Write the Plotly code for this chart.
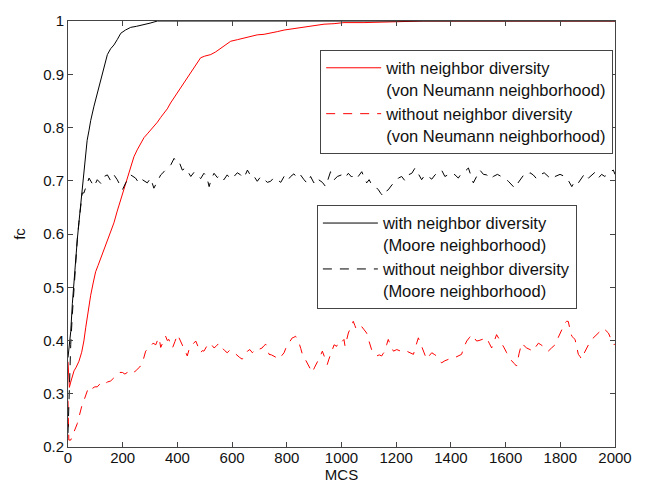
import plotly.graph_objects as go

# ---- data ----
moore_div_x = [0, 4, 10, 16, 22, 28, 34, 40, 46, 52, 58, 64, 70, 77, 83, 95, 107, 120, 132, 144, 156, 168,
               180, 193, 210, 229, 250, 278, 300, 327, 350, 400, 1000, 2000]
moore_div_y = [0.368, 0.390, 0.417, 0.470, 0.516, 0.555, 0.590, 0.622, 0.653, 0.680, 0.702, 0.738, 0.776,
               0.795, 0.813, 0.840, 0.863, 0.890, 0.912, 0.937, 0.948, 0.955, 0.965, 0.977, 0.983, 0.988,
               0.990, 0.993, 0.996, 1.0, 1.0, 1.0, 1.0, 1.0]

moore_nodiv_x = [0, 4, 10, 16, 22, 28, 34, 40, 46, 52, 58, 77, 95, 107, 120, 132, 144, 156, 168, 180, 199, 211,
                 229, 247, 260, 272, 290, 302, 314, 327, 339, 351, 363, 376, 388, 397, 406, 418, 430, 440, 449,
                 461, 473, 485, 497, 507, 516, 525, 534, 546, 558, 570, 582, 595, 607, 619, 631, 643, 656, 665,
                 674, 683, 692, 705, 717, 729, 741, 753, 765, 778, 790, 802, 814, 826, 838, 850, 863, 875, 887,
                 899, 908, 917, 930, 942, 951, 960, 973, 985, 1000, 1012, 1025, 1037, 1049, 1061, 1074, 1083,
                 1092, 1101, 1110, 1122, 1135, 1144, 1153, 1162, 1171, 1184, 1196, 1208, 1220, 1232, 1244,
                 1257, 1269, 1281, 1293, 1305, 1317, 1330, 1342, 1354, 1366, 1378, 1391, 1403, 1415, 1427,
                 1439, 1452, 1464, 1473, 1482, 1494, 1506, 1519, 1531, 1543, 1555, 1570, 1586, 1598, 1610,
                 1622, 1634, 1644, 1653, 1665, 1677, 1689, 1701, 1713, 1726, 1741, 1756, 1768, 1781, 1799,
                 1817, 1830, 1842, 1854, 1866, 1878, 1890, 1903, 1915, 1927, 1939, 1951, 1963, 1975, 1982,
                 1994, 2000]
moore_nodiv_y = [0.226, 0.300, 0.393, 0.450, 0.504, 0.550, 0.590, 0.622, 0.653, 0.677, 0.677, 0.705, 0.689,
                 0.702, 0.695, 0.708, 0.711, 0.700, 0.711, 0.702, 0.683, 0.696, 0.711, 0.705, 0.695, 0.702,
                 0.696, 0.705, 0.686, 0.700, 0.711, 0.717, 0.724, 0.730, 0.742, 0.735, 0.736, 0.720, 0.724,
                 0.715, 0.708, 0.716, 0.711, 0.704, 0.714, 0.708, 0.689, 0.705, 0.714, 0.706, 0.711, 0.702,
                 0.711, 0.703, 0.708, 0.715, 0.711, 0.705, 0.720, 0.712, 0.714, 0.706, 0.699, 0.708, 0.702,
                 0.697, 0.699, 0.706, 0.702, 0.697, 0.708, 0.700, 0.708, 0.713, 0.705, 0.711, 0.702, 0.695,
                 0.708, 0.696, 0.705, 0.702, 0.697, 0.689, 0.705, 0.717, 0.702, 0.708, 0.711, 0.705, 0.714,
                 0.707, 0.714, 0.708, 0.717, 0.705, 0.696, 0.702, 0.693, 0.690, 0.683, 0.676, 0.671, 0.680,
                 0.683, 0.692, 0.699, 0.705, 0.708, 0.700, 0.711, 0.714, 0.724, 0.712, 0.702, 0.711, 0.708,
                 0.703, 0.711, 0.716, 0.720, 0.708, 0.711, 0.715, 0.711, 0.705, 0.714, 0.718, 0.724, 0.710,
                 0.696, 0.708, 0.720, 0.712, 0.711, 0.703, 0.708, 0.712, 0.708, 0.704, 0.699, 0.693, 0.686,
                 0.695, 0.702, 0.710, 0.708, 0.715, 0.711, 0.704, 0.711, 0.715, 0.708, 0.702, 0.708, 0.712,
                 0.708, 0.700, 0.689, 0.700, 0.696, 0.706, 0.714, 0.705, 0.711, 0.716, 0.705, 0.712, 0.708,
                 0.713, 0.717, 0.720, 0.712]

vn_div_x = [0, 5, 10, 16, 22, 30, 40, 50, 58, 65, 71, 77, 83, 92, 101, 110, 119, 132, 144, 156, 168, 180,
            193, 205, 217, 229, 241, 253, 266, 278, 290, 302, 314, 327, 339, 351, 363, 375, 388, 400, 412, 424,
            436, 449, 461, 473, 485, 500, 522, 540, 558, 576, 595, 620, 644, 668, 692, 717, 741, 765, 790, 826,
            863, 900, 936, 973, 1009, 1082, 1150, 1250, 1300, 2000]
vn_div_y = [0.360, 0.312, 0.322, 0.335, 0.343, 0.350, 0.361, 0.378, 0.399, 0.425, 0.448, 0.468, 0.485, 0.508,
            0.529, 0.541, 0.553, 0.572, 0.590, 0.605, 0.621, 0.643, 0.665, 0.687, 0.708, 0.728, 0.745, 0.758,
            0.770, 0.781, 0.788, 0.795, 0.801, 0.810, 0.819, 0.826, 0.835, 0.846, 0.856, 0.866, 0.875, 0.884,
            0.893, 0.903, 0.912, 0.922, 0.931, 0.934, 0.937, 0.942, 0.949, 0.956, 0.962, 0.965, 0.968, 0.971,
            0.974, 0.975, 0.977, 0.980, 0.983, 0.986, 0.989, 0.992, 0.994, 0.995, 0.997, 0.997, 0.998, 0.999,
            1.0, 1.0]

vn_nodiv_x = [0, 3, 10, 16, 22, 28, 34, 40, 46, 52, 58, 65, 71, 80, 89, 98, 107, 116, 125, 132, 144, 156, 168,
              180, 190, 199, 208, 217, 226, 235, 244, 253, 262, 272, 278, 284, 293, 302, 311, 321, 327, 333, 339,
              348, 357, 363, 369, 375, 382, 391, 400, 406, 412, 418, 424, 430, 436, 442, 449, 458, 467, 476, 485,
              491, 497, 506, 516, 525, 534, 543, 552, 558, 564, 573, 582, 592, 601, 610, 619, 628, 637, 646, 656,
              665, 674, 683, 692, 701, 710, 716, 723, 729, 735, 744, 753, 762, 771, 780, 790, 796, 802, 811, 820,
              826, 832, 838, 845, 851, 857, 866, 875, 884, 893, 902, 911, 920, 930, 939, 948, 954, 960, 967, 973,
              982, 991, 1000, 1009, 1013, 1019, 1025, 1034, 1043, 1049, 1055, 1064, 1074, 1083, 1092, 1101, 1110,
              1120, 1129, 1138, 1147, 1153, 1159, 1165, 1171, 1180, 1190, 1202, 1214, 1226, 1238, 1250, 1263,
              1272, 1281, 1287, 1293, 1302, 1311, 1320, 1330, 1339, 1348, 1357, 1366, 1378, 1391, 1403, 1415,
              1427, 1439, 1448, 1458, 1467, 1476, 1485, 1494, 1503, 1513, 1522, 1531, 1540, 1549, 1558, 1567,
              1576, 1586, 1595, 1604, 1613, 1622, 1631, 1640, 1649, 1659, 1668, 1677, 1689, 1701, 1710, 1720,
              1729, 1738, 1747, 1756, 1768, 1781, 1790, 1799, 1808, 1817, 1823, 1829, 1836, 1842, 1848, 1854,
              1860, 1866, 1872, 1878, 1887, 1896, 1905, 1915, 1927, 1939, 1948, 1957, 1966, 1976, 1985, 1991,
              1997, 2000]
vn_nodiv_y = [0.287, 0.213, 0.213, 0.220, 0.228, 0.236, 0.244, 0.256, 0.269, 0.280, 0.287, 0.300, 0.306, 0.302,
              0.310, 0.313, 0.313, 0.318, 0.315, 0.318, 0.322, 0.324, 0.330, 0.334, 0.340, 0.340, 0.337, 0.340,
              0.345, 0.343, 0.341, 0.346, 0.350, 0.358, 0.370, 0.380, 0.385, 0.389, 0.395, 0.392, 0.400, 0.405,
              0.387, 0.398, 0.408, 0.400, 0.402, 0.393, 0.386, 0.398, 0.411, 0.405, 0.399, 0.392, 0.386, 0.378,
              0.371, 0.382, 0.389, 0.395, 0.399, 0.388, 0.377, 0.381, 0.380, 0.388, 0.395, 0.392, 0.386, 0.390,
              0.395, 0.392, 0.386, 0.381, 0.377, 0.382, 0.380, 0.376, 0.371, 0.368, 0.365, 0.372, 0.380, 0.383,
              0.377, 0.382, 0.386, 0.384, 0.386, 0.390, 0.393, 0.385, 0.374, 0.373, 0.371, 0.368, 0.365, 0.370,
              0.377, 0.385, 0.392, 0.398, 0.405, 0.406, 0.408, 0.402, 0.395, 0.385, 0.374, 0.366, 0.358, 0.348,
              0.340, 0.350, 0.358, 0.368, 0.380, 0.368, 0.355, 0.365, 0.374, 0.383, 0.392, 0.389, 0.399, 0.397,
              0.402, 0.389, 0.400, 0.414, 0.425, 0.436, 0.428, 0.420, 0.423, 0.426, 0.420, 0.414, 0.398, 0.383,
              0.376, 0.371, 0.373, 0.371, 0.376, 0.380, 0.392, 0.402, 0.390, 0.380, 0.383, 0.380, 0.378, 0.380,
              0.377, 0.374, 0.390, 0.405, 0.397, 0.389, 0.377, 0.365, 0.371, 0.377, 0.374, 0.371, 0.364, 0.358,
              0.362, 0.365, 0.367, 0.368, 0.371, 0.374, 0.388, 0.399, 0.405, 0.411, 0.405, 0.399, 0.400, 0.402,
              0.404, 0.405, 0.395, 0.386, 0.398, 0.411, 0.403, 0.395, 0.386, 0.377, 0.369, 0.362, 0.357, 0.352,
              0.375, 0.395, 0.390, 0.386, 0.383, 0.380, 0.388, 0.395, 0.392, 0.389, 0.384, 0.380, 0.386, 0.392,
              0.403, 0.414, 0.424, 0.433, 0.436, 0.436, 0.420, 0.408, 0.405, 0.402, 0.388, 0.374, 0.370, 0.365,
              0.376, 0.386, 0.394, 0.402, 0.408, 0.414, 0.418, 0.423, 0.419, 0.414, 0.403, 0.398, 0.392, 0.394]

x_ticks = [0, 200, 400, 600, 800, 1000, 1200, 1400, 1600, 1800, 2000]
y_ticks = [0.2, 0.3, 0.4, 0.5, 0.6, 0.7, 0.8, 0.9, 1.0]
y_tick_labels = ["0.2", "0.3", "0.4", "0.5", "0.6", "0.7", "0.8", "0.9", "1"]

names = [
    "with neighbor diversity<br>(von Neumann neighborhood)",
    "without neighbor diversity<br>(von Neumann neighborhood)",
    "with neighbor diversity<br>(Moore neighborhood)",
    "without neighbor diversity<br>(Moore neighborhood)",
]

FONT = "Liberation Sans, Arial, Helvetica, sans-serif"
DASH = "9px,8px"

fig = go.Figure()
fig.add_trace(go.Scatter(x=vn_div_x, y=vn_div_y, mode="lines", name=names[0],
                         line=dict(color="#ff0000", width=1), legend="legend"))
fig.add_trace(go.Scatter(x=vn_nodiv_x, y=vn_nodiv_y, mode="lines", name=names[1],
                         line=dict(color="#ff0000", width=1, dash=DASH), legend="legend"))
fig.add_trace(go.Scatter(x=moore_div_x, y=moore_div_y, mode="lines", name=names[2],
                         line=dict(color="#000000", width=1), legend="legend2"))
fig.add_trace(go.Scatter(x=moore_nodiv_x, y=moore_nodiv_y, mode="lines", name=names[3],
                         line=dict(color="#000000", width=1, dash=DASH), legend="legend2"))

axis_common = dict(showline=True, linecolor="#444444", linewidth=1, mirror="ticks",
                   ticks="inside", ticklen=5, tickcolor="#444444", showgrid=False, zeroline=False,
                   tickfont=dict(family=FONT, size=15, color="#111111"))

fig.update_layout(
    width=650, height=492,
    margin=dict(l=68, r=35, t=16, b=45),
    plot_bgcolor="white", paper_bgcolor="white",
    font=dict(family=FONT, size=15, color="#111111"),
    xaxis=dict(range=[0, 2000], tickvals=x_ticks, ticklabelstandoff=-3,
               title=dict(text="MCS", standoff=0, font=dict(family=FONT, size=15)), **axis_common),
    yaxis=dict(range=[0.2, 1.0], tickvals=y_ticks, ticktext=y_tick_labels,
               title=dict(text="fc", standoff=13, font=dict(family=FONT, size=15)), **axis_common),
    legend=dict(x=0.461, y=0.933, xanchor="left", yanchor="top", bgcolor="white",
                bordercolor="#444444", borderwidth=1, itemwidth=55, valign="top",
                font=dict(family=FONT, size=16.5, color="#111111"), tracegroupgap=0),
    legend2=dict(x=0.455, y=0.5685, xanchor="left", yanchor="top", bgcolor="white",
                 bordercolor="#444444", borderwidth=1, itemwidth=55, valign="top",
                 font=dict(family=FONT, size=16.5, color="#111111"), tracegroupgap=0),
)

fig.write_html("out.html")
